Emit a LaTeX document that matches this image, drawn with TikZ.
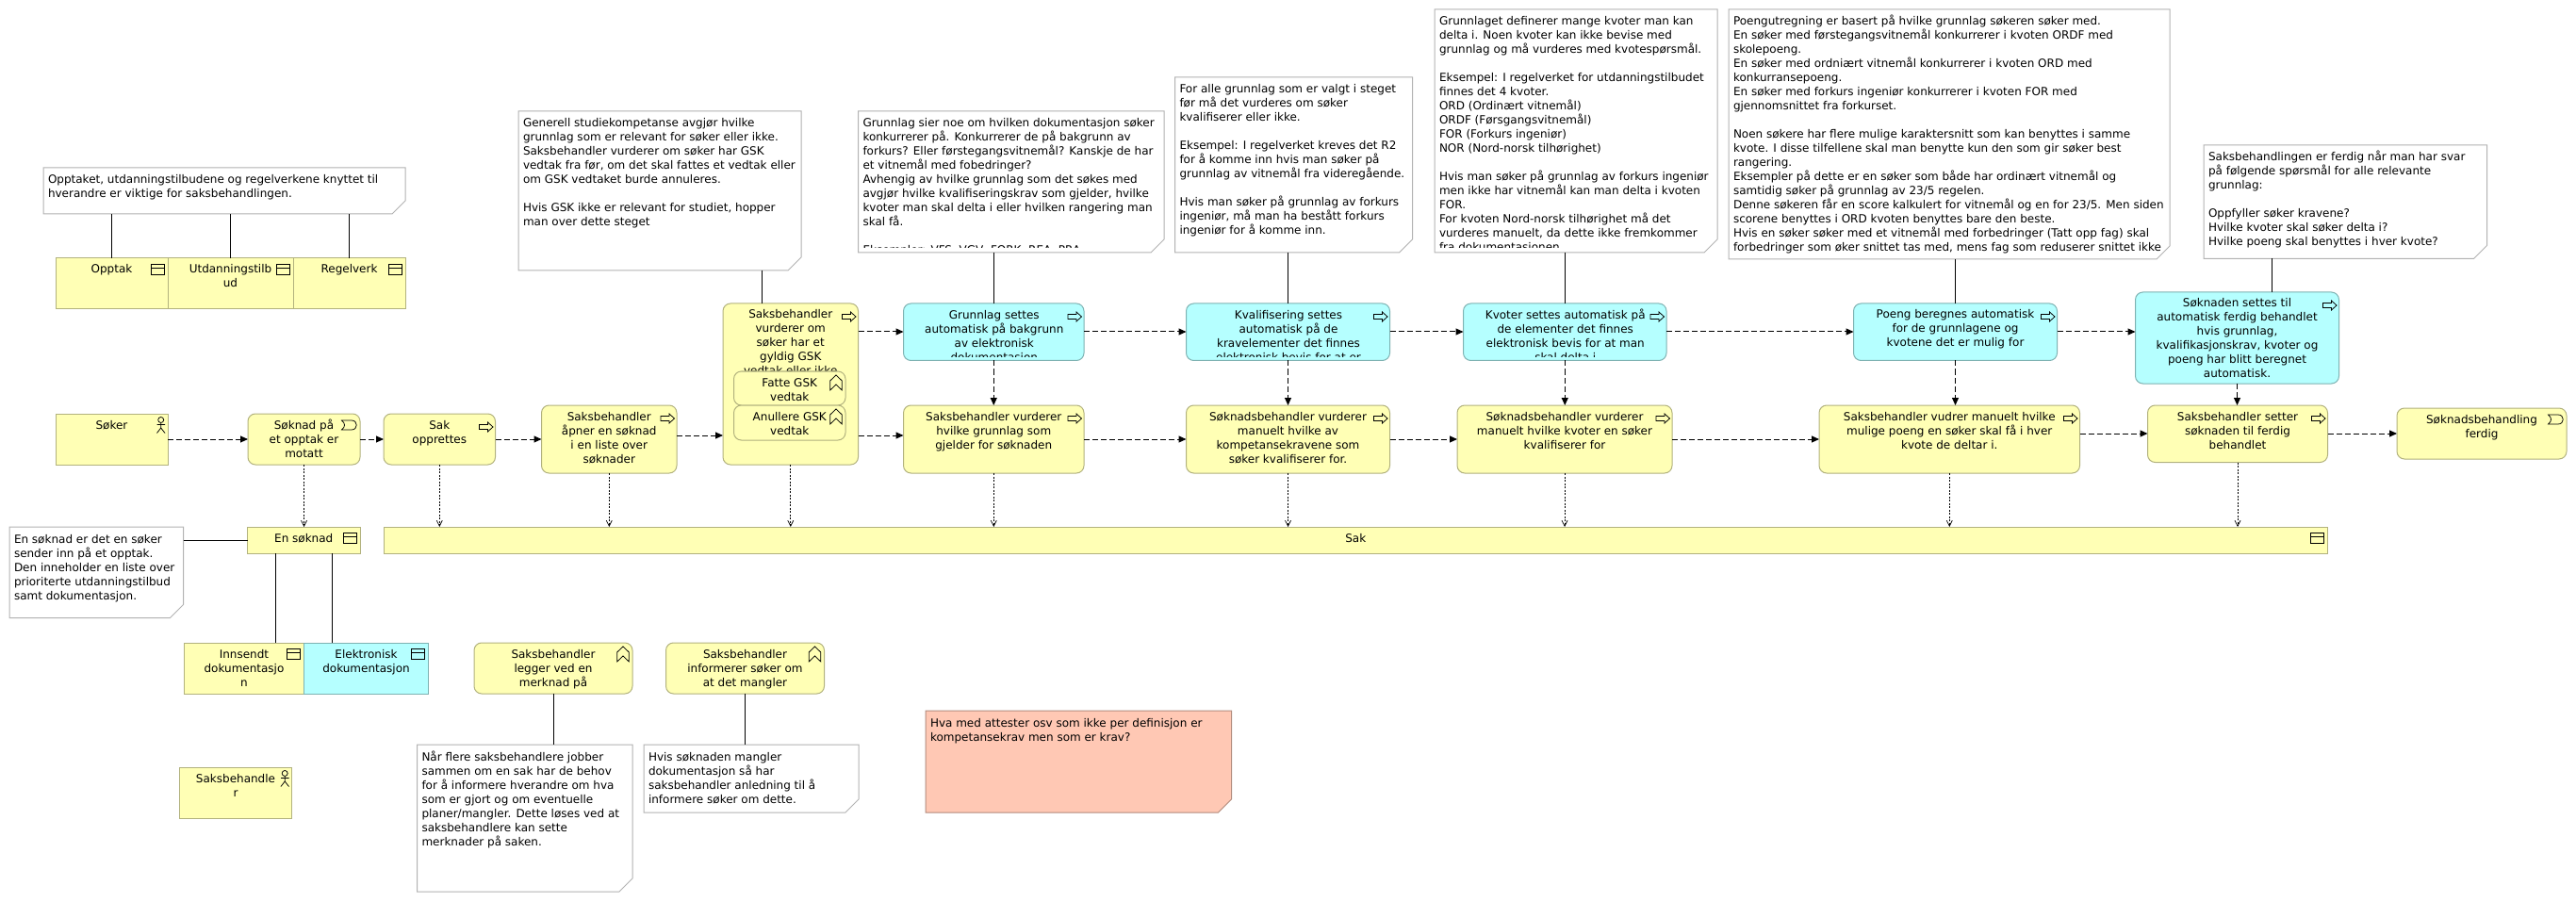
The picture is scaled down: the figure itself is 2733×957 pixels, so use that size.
\documentclass[tikz,border=0pt]{standalone}
\usepackage{fontspec}
\setmainfont{DejaVu Sans}
\usepackage{xcolor}
\usetikzlibrary{arrows.meta}

\definecolor{busfill}{HTML}{FFFFB5}
\definecolor{busline}{HTML}{B2B27E}
\definecolor{appfill}{HTML}{B5FFFF}
\definecolor{appline}{HTML}{7EB2B2}
\definecolor{redfill}{HTML}{FFC8B4}
\definecolor{redline}{HTML}{B28C7E}
\definecolor{noteline}{HTML}{B2B2B2}

\tikzset{
  bus/.style={draw=busline,fill=busfill},
  app/.style={draw=appline,fill=appfill},
  round/.style={rounded corners=8pt},
  flow/.style={dash pattern=on 6pt off 3pt,-{Triangle[length=8pt,width=7pt]}},
  serve/.style={line width=.7pt,dash pattern=on 2pt off 1.5pt,-{Straight Barb[length=6pt,width=6pt]}},
  link/.style={draw=black},
  icon/.style={draw=black,line width=.75pt,rounded corners=0pt},
  notepath/.style={draw=noteline,fill=white},
  rednote/.style={draw=redline,fill=redfill}
}

\newcommand{\eltext}[3]{\parbox[t][#2pt][t]{#1pt}{\fontsize{12}{15}\selectfont\centering\rule{0pt}{16pt}#3}}
\newcommand{\elem}[7][bus]{\node[#1,anchor=north west,inner sep=0pt,outer sep=0pt] (#2) at (#3,#4) {\eltext{#5}{#6}{#7}};}
% same, but the lines that do not fit are cut off
\newcommand{\elemcut}[7][app]{
  \node[#1,anchor=north west,inner sep=0pt,outer sep=0pt] (#2) at (#3,#4) {\eltext{#5}{#6}{}};
  \begin{scope}
    \clip (#3,#4) rectangle ++(#5,#6-4);
    \node[anchor=north west,inner sep=0pt] (#2-text) at (#3,#4) {\eltext{#5}{#6}{#7}};
  \end{scope}
}
\newcommand{\note}[7][notepath]{
  \draw[#1] (#3,#4) -- ++(#5,0) -- ++(0,#6-14) -- ++(-14,14) -- ++(14-#5,0) -- cycle;
  \begin{scope}
    \clip (#3,#4) rectangle ++(#5,#6-5);
    \node[anchor=north west,inner ysep=0pt,inner xsep=5pt,outer sep=0pt] (#2) at (#3,#4)
      {\parbox[t][#6pt][t]{\dimexpr#5pt-10pt\relax}{\fontsize{12}{15}\selectfont\raggedright\rule{0pt}{17pt}#7}};
  \end{scope}
}
\newcommand{\procicon}[1]{\begin{scope}[shift={(#1.north east)}]
  \draw[icon] (-17,11.5) -- (-8,11.5) -- (-8,9) -- (-2.5,14) -- (-8,19) -- (-8,16.5) -- (-17,16.5) -- cycle;
\end{scope}}
\newcommand{\objicon}[1]{\begin{scope}[shift={(#1.north east)}]
  \draw[icon] (-18,6) rectangle (-4,17) (-18,10) -- (-4,10);
\end{scope}}
\newcommand{\actoricon}[1]{\begin{scope}[shift={(#1.north east)}]
  \draw[icon] (-7.3,6.5) circle (3pt) (-7.3,9.5) -- (-7.3,15) (-11.5,11.5) -- (-3,11.5) (-11.5,20.5) -- (-7.3,15) -- (-3,20.5);
\end{scope}}
\newcommand{\eventicon}[1]{\begin{scope}[shift={(#1.north east)}]
  \draw[icon] (-19.5,7) -- (-9,7) .. controls (-2,7) and (-2,17) .. (-9,17) -- (-19.5,17) .. controls (-15.5,14) and (-15.5,10) .. cycle;
\end{scope}}
\newcommand{\funcicon}[1]{\begin{scope}[shift={(#1.north east)}]
  \draw[icon] (-10,4) -- (-16.3,10) -- (-16.3,20) -- (-10,14) -- (-3.7,20) -- (-3.7,10) -- cycle;
\end{scope}}

\begin{document}
\begin{tikzpicture}[x=1pt,y=-1pt,line width=1pt]
  \useasboundingbox (0,0) rectangle (2733,957);

  % notes
  \note{noteopptak}{46}{178}{384}{49}{Opptaket, utdanningstilbudene og regelverkene knyttet til\\hverandre er viktige for saksbehandlingen.}
  \note{notegsk}{550}{118}{300}{169}{Generell studiekompetanse avgjør hvilke\\grunnlag som er relevant for søker eller ikke.\\Saksbehandler vurderer om søker har GSK\\vedtak fra før, om det skal fattes et vedtak eller\\om GSK vedtaket burde annuleres.\\[15pt]Hvis GSK ikke er relevant for studiet, hopper\\man over dette steget}
  \note{notegrunnlag}{910.5}{118}{324.5}{150}{Grunnlag sier noe om hvilken dokumentasjon søker\\konkurrerer på. Konkurrerer de på bakgrunn av\\forkurs? Eller førstegangsvitnemål? Kanskje de har\\et vitnemål med fobedringer?\\Avhengig av hvilke grunnlag som det søkes med\\avgjør hvilke kvalifiseringskrav som gjelder, hvilke\\kvoter man skal delta i eller hvilken rangering man\\skal få.\\[15pt]Eksempler: VFS, VGV, FORK, REA, PRA}
  \note{notekval}{1246.5}{82}{252}{186}{For alle grunnlag som er valgt i steget\\før må det vurderes om søker\\kvalifiserer eller ikke.\\[15pt]Eksempel: I regelverket kreves det R2\\for å komme inn hvis man søker på\\grunnlag av vitnemål fra videregående.\\[15pt]Hvis man søker på grunnlag av forkurs\\ingeniør, må man ha bestått forkurs\\ingeniør for å komme inn.}
  \note{notekvote}{1522}{10}{300}{258}{Grunnlaget definerer mange kvoter man kan\\delta i. Noen kvoter kan ikke bevise med\\grunnlag og må vurderes med kvotespørsmål.\\[15pt]Eksempel: I regelverket for utdanningstilbudet\\finnes det 4 kvoter.\\ORD (Ordinært vitnemål)\\ORDF (Førsgangsvitnemål)\\FOR (Forkurs ingeniør)\\NOR (Nord-norsk tilhørighet)\\[15pt]Hvis man søker på grunnlag av forkurs ingeniør\\men ikke har vitnemål kan man delta i kvoten\\FOR.\\For kvoten Nord-norsk tilhørighet må det\\vurderes manuelt, da dette ikke fremkommer\\fra dokumentasjonen}
  \note{notepoeng}{1834}{10}{468}{265}{Poengutregning er basert på hvilke grunnlag søkeren søker med.\\En søker med førstegangsvitnemål konkurrerer i kvoten ORDF med\\skolepoeng.\\En søker med ordniært vitnemål konkurrerer i kvoten ORD med\\konkurransepoeng.\\En søker med forkurs ingeniør konkurrerer i kvoten FOR med\\gjennomsnittet fra forkurset.\\[15pt]Noen søkere har flere mulige karaktersnitt som kan benyttes i samme\\kvote. I disse tilfellene skal man benytte kun den som gir søker best\\rangering.\\Eksempler på dette er en søker som både har ordinært vitnemål og\\samtidig søker på grunnlag av 23/5 regelen.\\Denne søkeren får en score kalkulert for vitnemål og en for 23/5. Men siden\\scorene benyttes i ORD kvoten benyttes bare den beste.\\Hvis en søker søker med et vitnemål med forbedringer (Tatt opp fag) skal\\forbedringer som øker snittet tas med, mens fag som reduserer snittet ikke}
  \note{noteferdig}{2338}{154}{300.5}{120.5}{Saksbehandlingen er ferdig når man har svar\\på følgende spørsmål for alle relevante\\grunnlag:\\[15pt]Oppfyller søker kravene?\\Hvilke kvoter skal søker delta i?\\Hvilke poeng skal benyttes i hver kvote?}
  \note{notesoeknad}{10}{559}{184.5}{96.5}{En søknad er det en søker\\sender inn på et opptak.\\Den inneholder en liste over\\prioriterte utdanningstilbud\\samt dokumentasjon.}
  \note{notemerknad}{442.5}{790}{228.5}{156}{Når flere saksbehandlere jobber\\sammen om en sak har de behov\\for å informere hverandre om hva\\som er gjort og om eventuelle\\planer/mangler. Dette løses ved at\\saksbehandlere kan sette\\merknader på saken.}
  \note{notemangler}{683}{790}{228}{72}{Hvis søknaden mangler\\dokumentasjon så har\\saksbehandler anledning til å\\informere søker om dette.}
  \note[rednote]{noteattest}{982}{754}{324.5}{108}{Hva med attester osv som ikke per definisjon er\\kompetansekrav men som er krav?}

  % objects and actors
  \elem{opptak}{59}{274}{119}{54}{Opptak}
  \elem{utdanning}{178}{274}{133}{54}{Utdanningstilb\\ud}
  \elem{regelverk}{311}{274}{119}{54}{Regelverk}
  \elem{soeker}{59}{439}{119}{54}{Søker}
  \elem{sak}{407}{559}{2062.5}{28}{Sak}
  \elem{ensoeknad}{262.5}{559}{119.5}{28}{En søknad}
  \elem{innsendt}{195.5}{682}{127}{54}{Innsendt\\dokumentasjo\\n}
  \elem[app]{elektronisk}{322.5}{682}{132}{54}{Elektronisk\\dokumentasjon}
  \elem{saksbeh}{190.5}{814}{119}{54}{Saksbehandle\\r}

  % lower row
  \elem[bus,round]{soeknadpaa}{263}{439}{119}{54}{Søknad på\\et opptak er\\motatt}
  \elem[bus,round]{sakopprettes}{407}{439}{118.5}{54}{Sak\\opprettes}
  \elem[bus,round]{aapner}{574.5}{430}{143.5}{72}{Saksbehandler\\åpner en søknad\\i en liste over\\søknader}
  \elem[bus,round]{vurderom}{767}{322}{143.5}{171}{Saksbehandler\\vurderer om\\søker har et\\gyldig GSK\\vedtak eller ikke}
  \elem[bus,round]{fatte}{778.5}{394}{118.5}{36}{Fatte GSK\\vedtak}
  \elem[bus,round]{anullere}{778.5}{430}{118.5}{37}{Anullere GSK\\vedtak}
  \elem[bus,round]{grunnlagman}{958.5}{430}{191.5}{72}{Saksbehandler vurderer\\hvilke grunnlag som\\gjelder for søknaden}
  \elem[bus,round]{kvalman}{1258.5}{430}{216}{72}{Søknadsbehandler vurderer\\manuelt hvilke av\\kompetansekravene som\\søker kvalifiserer for.}
  \elem[bus,round]{kvoteman}{1546}{430}{228}{72}{Søknadsbehandler vurderer\\manuelt hvilke kvoter en søker\\kvalifiserer for}
  \elem[bus,round]{poengman}{1930}{430}{276.5}{72}{Saksbehandler vudrer manuelt hvilke\\mulige poeng en søker skal få i hver\\kvote de deltar i.}
  \elem[bus,round]{settferdig}{2278.5}{430}{191}{60.5}{Saksbehandler setter\\søknaden til ferdig\\behandlet}
  \elem[bus,round]{ferdig}{2543}{433}{180}{54}{Søknadsbehandling\\ferdig}

  % upper row
  \elemcut[app,round]{grunnlagauto}{958.5}{322}{191.5}{60.5}{Grunnlag settes\\automatisk på bakgrunn\\av elektronisk\\dokumentasjon}
  \elemcut[app,round]{kvalauto}{1258.5}{322}{216}{60.5}{Kvalifisering settes\\automatisk på de\\kravelementer det finnes\\elektronisk bevis for at er}
  \elemcut[app,round]{kvoteauto}{1552.5}{322}{215.5}{60.5}{Kvoter settes automatisk på\\de elementer det finnes\\elektronisk bevis for at man\\skal delta i}
  \elem[app,round]{poengauto}{1966.5}{322}{216}{60.5}{Poeng beregnes automatisk\\for de grunnlagene og\\kvotene det er mulig for}
  \elem[app,round]{ferdigauto}{2265.5}{310}{216}{97}{Søknaden settes til\\automatisk ferdig behandlet\\hvis grunnlag,\\kvalifikasjonskrav, kvoter og\\poeng har blitt beregnet\\automatisk.}

  % merknad and mangler
  \elem[bus,round]{legger}{503}{682}{168}{54}{Saksbehandler\\legger ved en\\merknad på}
  \elem[bus,round]{informerer}{706.5}{682}{168}{54}{Saksbehandler\\informerer søker om\\at det mangler}

  % icons
  \foreach \n in {sakopprettes,aapner,vurderom,grunnlagman,kvalman,kvoteman,poengman,settferdig,grunnlagauto,kvalauto,kvoteauto,poengauto,ferdigauto} {\procicon{\n}}
  \foreach \n in {opptak,utdanning,regelverk,sak,ensoeknad,innsendt,elektronisk} {\objicon{\n}}
  \foreach \n in {soeker,saksbeh} {\actoricon{\n}}
  \foreach \n in {soeknadpaa,ferdig} {\eventicon{\n}}
  \foreach \n in {fatte,anullere,legger,informerer} {\funcicon{\n}}

  % triggering
  \foreach \a/\b/\y in {soeker/soeknadpaa/466,soeknadpaa/sakopprettes/466,sakopprettes/aapner/466,
      aapner/vurderom/462,vurderom/grunnlagauto/352,vurderom/grunnlagman/462,
      grunnlagauto/kvalauto/352,kvalauto/kvoteauto/352,kvoteauto/poengauto/352,poengauto/ferdigauto/352,
      grunnlagman/kvalman/466,kvalman/kvoteman/466,kvoteman/poengman/466,
      poengman/settferdig/460,settferdig/ferdig/460}
    \draw[flow] (\a.east |- 0,\y) -- (\b.west |- 0,\y);
  \foreach \a/\b in {grunnlagauto/grunnlagman,kvalauto/kvalman,kvoteauto/kvoteman,poengauto/poengman,ferdigauto/settferdig}
    \draw[flow] (\a.south) -- (\a.south |- \b.north);

  % serving
  \draw[serve] (soeknadpaa.south) -- (soeknadpaa.south |- ensoeknad.north);
  \foreach \a in {sakopprettes,aapner,vurderom,grunnlagman,kvalman,kvoteman,poengman,settferdig}
    \draw[serve] (\a.south) -- (\a.south |- sak.north);

  % note links
  \foreach \n in {opptak,utdanning,regelverk}
    \draw[link] (\n.north) -- (\n.north |- noteopptak.south);
  \draw[link] (notegsk.south -| 808.5,0) -- (vurderom.north -| 808.5,0);
  \draw[link] (grunnlagauto.north) -- (grunnlagauto.north |- notegrunnlag.south);
  \draw[link] (kvalauto.north) -- (kvalauto.north |- notekval.south);
  \draw[link] (kvoteauto.north) -- (kvoteauto.north |- notekvote.south);
  \draw[link] (poengauto.north) -- (poengauto.north |- notepoeng.south);
  \draw[link] (noteferdig.south -| 2410,0) -- (ferdigauto.north -| 2410,0);
  \draw[link] (notesoeknad.east |- ensoeknad.west) -- (ensoeknad.west);
  \draw[link] (ensoeknad.south -| 292.5,0) -- (innsendt.north -| 292.5,0);
  \draw[link] (ensoeknad.south -| 352.5,0) -- (elektronisk.north -| 352.5,0);
  \draw[link] (legger.south) -- (legger.south |- notemerknad.north);
  \draw[link] (informerer.south) -- (informerer.south |- notemangler.north);
\end{tikzpicture}
\end{document}
